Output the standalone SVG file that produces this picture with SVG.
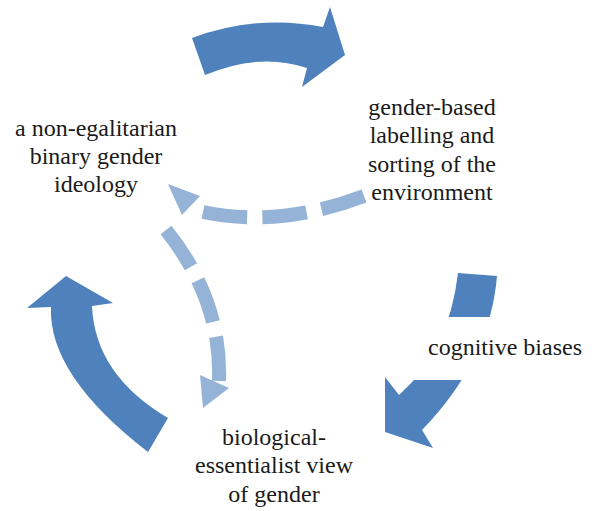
<svg xmlns="http://www.w3.org/2000/svg" width="592" height="511" viewBox="0 0 592 511">
<style>
.big{fill:#4F81BD;stroke:none}
.dash{fill:none;stroke:#95B3D7;stroke-width:14;stroke-dasharray:44 15}
.head{fill:#95B3D7;stroke:none}
.t{font-family:"Liberation Serif","Times New Roman",serif;font-size:24px;fill:#1a1a1a;text-anchor:middle}
</style>
<rect width="592" height="511" fill="#ffffff"/>
<g id="connectors">
<path id="arrow-top" class="big" d="M192,38 Q257,14 323,27 L330,7 L345,55 L302,87 L307,68 Q260,52 205,75 Z"/>
<path id="arrow-right" class="big" d="M458,273 L497,276 Q490,360 422,430 L433,448 L385,432 L385,377 L399,395 Q449,351 458,273 Z"/>
<path id="arrow-left" class="big" d="M66,276 L113,303 L92,306 Q95,375 168,418 L148,452 Q48,375 51,307 L27,308 Z"/>
<path id="dashed-horizontal" class="dash" pathLength="162" d="M364,196 Q280,228 203,212"/>
<polygon class="head" points="168,184 200,196 182,215"/>
<path id="dashed-vertical" class="dash" pathLength="162" d="M166,230 Q222,300 219,381"/>
<polygon class="head" points="200,375 229,388 203,408"/>
</g>
<g id="node-ideology">
<text class="t" x="96" y="136">a non-egalitarian</text>
<text class="t" x="96" y="164">binary gender</text>
<text class="t" x="96" y="192">ideology</text>
</g>
<g id="node-labelling">
<text class="t" x="432" y="115">gender-based</text>
<text class="t" x="432" y="143">labelling and</text>
<text class="t" x="432" y="172">sorting of the</text>
<text class="t" x="432" y="200">environment</text>
</g>
<g id="node-cognitive">
<rect x="412" y="317" width="180" height="63" fill="#ffffff"/>
<text class="t" x="505" y="355">cognitive biases</text>
</g>
<g id="node-biological">
<text class="t" x="274" y="445">biological-</text>
<text class="t" x="274" y="473">essentialist view</text>
<text class="t" x="274" y="502">of gender</text>
</g>
</svg>
